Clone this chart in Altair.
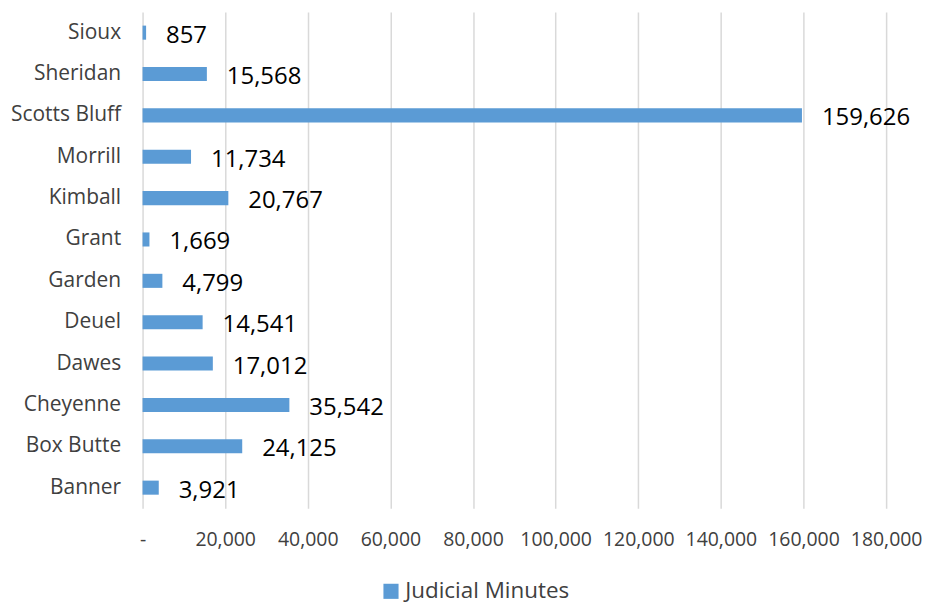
import altair as alt
import pandas as pd

counties = ["Sioux", "Sheridan", "Scotts Bluff", "Morrill", "Kimball", "Grant",
            "Garden", "Deuel", "Dawes", "Cheyenne", "Box Butte", "Banner"]
minutes = [857, 15568, 159626, 11734, 20767, 1669, 4799, 14541, 17012, 35542, 24125, 3921]
series_name = "Judicial Minutes"
x_ticks = [0, 20000, 40000, 60000, 80000, 100000, 120000, 140000, 160000, 180000]

df = pd.DataFrame({"county": counties, "minutes": minutes, "series": series_name})

FONT = "Open Sans"
BLUE = "#5B9BD5"

y_enc = alt.Y("county:N", sort=counties,
              scale=alt.Scale(paddingInner=0.66, paddingOuter=0.33),
              axis=alt.Axis(title=None, domain=False, ticks=False, grid=False,
                            labelFontSize=21, labelColor="#404040", labelFont=FONT,
                            labelPadding=22, minExtent=135, maxExtent=135))
x_enc = alt.X("minutes:Q", scale=alt.Scale(domain=[0, 180000], nice=False),
              axis=alt.Axis(title=None, values=x_ticks, domain=False, ticks=False,
                            grid=True, gridColor="#d9d9d9", gridWidth=1.5,
                            labelOverlap=False, labelFlush=False, labelBound=False,
                            labelExpr="datum.value == 0 ? '-' : format(datum.value, ',')",
                            labelFontSize=19.5, labelColor="#404040", labelFont=FONT,
                            labelPadding=22))

bars = alt.Chart(df).mark_bar().encode(
    y=y_enc, x=x_enc,
    color=alt.Color("series:N", scale=alt.Scale(range=[BLUE]),
                    legend=alt.Legend(title=None, orient="none", legendX=238, legendY=570,
                                      symbolType="square", symbolSize=230,
                                      symbolStrokeWidth=0, labelFontSize=22.5,
                                      labelFont=FONT, labelColor="#404040",
                                      labelOffset=3, labelLimit=400))
)

labels = alt.Chart(df).mark_text(align="left", baseline="middle", dx=20, dy=3,
                                 fontSize=24, font=FONT, color="#000000").encode(
    y=alt.Y("county:N", sort=counties), x="minutes:Q",
    text=alt.Text("minutes:Q", format=",")
)

chart = (bars + labels).properties(
    width=746, height=498,
    padding={"left": 0, "top": 3, "right": 0, "bottom": 0}
).configure(background="white").configure_view(stroke=None)

chart.save("out.html", embed_options={"renderer": "svg", "actions": False})
